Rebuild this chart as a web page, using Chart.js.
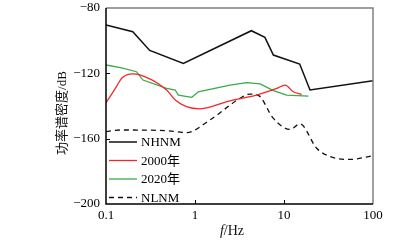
<!DOCTYPE html>
<html>
<head>
<meta charset="utf-8">
<script src="https://cdn.jsdelivr.net/npm/chart.js@4/dist/chart.umd.min.js"></script>
<style>
  html, body { margin: 0; padding: 0; background: #fff; }
  #wrap { width: 399px; height: 249px; position: relative; }
</style>
</head>
<body>
<div id="wrap"><canvas id="c"></canvas></div>
<script>
// ---- data (Hz, dB) ----
const NHNM_F = [0.1, 0.2, 0.31, 0.74, 4.3, 6.1, 7.6, 15, 19.6, 100];
const NHNM_DB = [-90.4, -94.5, -106, -113.9, -93.9, -98, -108.8, -114.3, -130.2, -124.5];

const Y2000_F = [0.1, 0.111, 0.132, 0.15, 0.171, 0.2, 0.23, 0.48, 0.6, 0.8, 1.14, 2.47, 4.9, 8.3, 10.3, 12.7, 15.8];
const Y2000_DB = [-138, -134.3, -127.8, -123, -121, -120.3, -120.6, -130.2, -136.3, -140.4, -141.7, -136.8, -133.3, -129.2, -127.2, -131.3, -132.9];

const Y2020_F = [0.1, 0.15, 0.22, 0.26, 0.48, 0.6, 0.65, 0.92, 1.09, 2.47, 3.8, 5.4, 7.6, 10.7, 18.8];
const Y2020_DB = [-114.9, -116.6, -119, -124.1, -129.2, -130.2, -133.3, -134.7, -131.3, -127.2, -125.7, -126.5, -130.6, -133.3, -133.9];

const NLNM_F = [0.1, 0.144, 0.48, 0.8, 1.47, 3.2, 4.15, 5.1, 7.6, 11.7, 15.1, 23.3, 33, 55, 100];
const NLNM_DB = [-155.7, -154.7, -155.1, -156.3, -148.6, -135.3, -132.7, -133.3, -147.6, -154.3, -151, -165.9, -171, -172.7, -170.5];

const X_TICKS = [0.1, 1, 10, 100];
const Y_TICKS = [-200, -160, -120, -80];

const FONT = "'Liberation Serif', 'Noto Sans CJK SC', serif";

function pts(f, db) {
  return f.map((v, i) => ({ x: v, y: db[i] }));
}

// ---- plot frame: grey top/right edges, inward tick marks ----
const framePlugin = {
  id: "frame",
  afterDraw(chart) {
    const ctx = chart.ctx;
    const a = chart.chartArea;
    const xs = chart.scales.x, ys = chart.scales.y;
    ctx.save();
    ctx.strokeStyle = "#808080";
    ctx.lineWidth = 1.5;
    ctx.beginPath();
    ctx.moveTo(a.left, a.top);
    ctx.lineTo(a.right, a.top);
    ctx.lineTo(a.right, a.bottom);
    ctx.stroke();
    ctx.strokeStyle = "#000";
    ctx.beginPath();
    ctx.moveTo(a.left, a.top);
    ctx.lineTo(a.left, a.bottom);
    ctx.lineTo(a.right, a.bottom);
    ctx.stroke();
    ctx.lineWidth = 1;
    ctx.beginPath();
    X_TICKS.slice(1, -1).forEach((v) => {
      const px = Math.round(xs.getPixelForValue(v)) + 0.5;
      ctx.moveTo(px, a.bottom);
      ctx.lineTo(px, a.bottom - 4);
    });
    Y_TICKS.slice(1, -1).forEach((v) => {
      const py = Math.round(ys.getPixelForValue(v)) + 0.5;
      ctx.moveTo(a.left, py);
      ctx.lineTo(a.left + 4, py);
    });
    ctx.stroke();
    ctx.restore();
  },
};

// ---- axis titles: rotated CJK y title, italic f in "f/Hz" ----
const titlesPlugin = {
  id: "titles",
  afterDraw(chart) {
    const ctx = chart.ctx;
    const a = chart.chartArea;
    ctx.save();
    ctx.fillStyle = "#111";
    ctx.textBaseline = "middle";
    // y title
    ctx.font = "13px " + FONT;
    ctx.translate(a.left - 43, 113);
    ctx.rotate(-Math.PI / 2);
    ctx.textAlign = "center";
    ctx.fillText("功率谱密度/dB", 0, 0);
    ctx.setTransform(1, 0, 0, 1, 0, 0);
    // x title
    const cx = 232;
    const cy = a.bottom + 27;
    ctx.textAlign = "left";
    ctx.font = "italic 14px " + FONT;
    const wf = ctx.measureText("f").width;
    ctx.font = "14px " + FONT;
    const wr = ctx.measureText("/Hz").width;
    const x0 = cx - (wf + wr) / 2;
    ctx.font = "italic 14px " + FONT;
    ctx.fillText("f", x0, cy);
    ctx.font = "14px " + FONT;
    ctx.fillText("/Hz", x0 + wf, cy);
    ctx.restore();
  },
};

// ---- legend drawn inside the lower-left of the plot ----
const legendPlugin = {
  id: "innerLegend",
  afterDraw(chart) {
    const ctx = chart.ctx;
    const a = chart.chartArea;
    ctx.save();
    ctx.font = "13px " + FONT;
    ctx.textBaseline = "middle";
    ctx.fillStyle = "#000";
    chart.data.datasets.forEach((ds, i) => {
      const y = a.top + 134 + i * 18.5;
      const x0 = a.left + 3;
      ctx.strokeStyle = ds.borderColor;
      ctx.lineWidth = ds.borderWidth;
      ctx.setLineDash(ds.borderDash || []);
      ctx.beginPath();
      ctx.moveTo(x0, y);
      ctx.lineTo(x0 + 28, y);
      ctx.stroke();
      ctx.setLineDash([]);
      ctx.fillText(ds.label, x0 + 32, y + 1);
    });
    ctx.restore();
  },
};

new Chart(document.getElementById("c"), {
  type: "line",
  data: {
    datasets: [
      { label: "NHNM", data: pts(NHNM_F, NHNM_DB), borderColor: "#111", borderWidth: 1.5, tension: 0 },
      { label: "2000年", data: pts(Y2000_F, Y2000_DB), borderColor: "#f02828", borderWidth: 1.3, cubicInterpolationMode: "monotone" },
      { label: "2020年", data: pts(Y2020_F, Y2020_DB), borderColor: "#3aaa4a", borderWidth: 1.3, tension: 0 },
      { label: "NLNM", data: pts(NLNM_F, NLNM_DB), borderColor: "#111", borderWidth: 1.3, borderDash: [5, 4], cubicInterpolationMode: "monotone" },
    ],
  },
  options: {
    responsive: true,
    maintainAspectRatio: false,
    animation: false,
    parsing: false,
    layout: { padding: { left: 0, right: 26, top: 8, bottom: 0 } },
    elements: { point: { radius: 0 } },
    plugins: { legend: { display: false }, tooltip: { enabled: false } },
    scales: {
      x: {
        type: "logarithmic",
        min: 0.1,
        max: 100,
        afterBuildTicks: (s) => { s.ticks = X_TICKS.map((v) => ({ value: v })); },
        afterFit: (s) => { s.height = 45; s.paddingLeft = 0; s.paddingRight = 0; },
        grid: { display: false, drawTicks: false },
        border: { display: false },
        ticks: {
          color: "#000",
          font: { family: FONT, size: 13 },
          padding: 4,
          maxRotation: 0,
          callback: (v) => String(v),
        },
      },
      y: {
        min: -200,
        max: -80,
        afterBuildTicks: (s) => { s.ticks = Y_TICKS.map((v) => ({ value: v })); },
        afterFit: (s) => { s.width = 106; s.paddingTop = 0; s.paddingBottom = 0; },
        grid: { display: false, drawTicks: false },
        border: { display: false },
        ticks: {
          color: "#000",
          font: { family: FONT, size: 13 },
          padding: 6,
          callback: (v) => String(v).replace("-", "\u2212"),
        },
      },
    },
  },
  plugins: [framePlugin, titlesPlugin, legendPlugin],
});
</script>
</body>
</html>
